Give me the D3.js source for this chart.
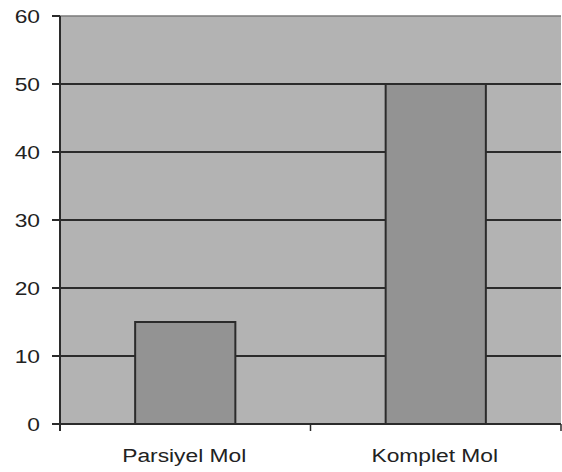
<!DOCTYPE html>
<html>
<head>
<meta charset="utf-8">
<script src="https://cdn.jsdelivr.net/npm/d3@7"></script>
<style>
  html, body { margin: 0; padding: 0; background: #fff; }
  svg { display: block; }
  text { font-family: "Liberation Sans", Arial, sans-serif; fill: #222; }
</style>
</head>
<body>
<svg id="chart" width="562" height="472"></svg>
<script>
// Chart data
const categories = ["Parsiyel Mol", "Komplet Mol"];
const values = [15, 50];
const yTicks = [0, 10, 20, 30, 40, 50, 60];

const W = 562, H = 472;
const plot = { left: 60, right: 561, top: 16, bottom: 424 };
const fontSize = 19, stretch = 1.2;

const svg = d3.select("#chart");

const x = d3.scaleBand()
  .domain(categories)
  .range([plot.left, plot.right])
  .paddingInner(0.6)
  .paddingOuter(0.3);

const y = d3.scaleLinear()
  .domain([0, 60])
  .range([plot.bottom, plot.top]);

// Plot area background
svg.append("rect")
  .attr("x", plot.left).attr("y", plot.top)
  .attr("width", plot.right - plot.left)
  .attr("height", plot.bottom - plot.top)
  .attr("fill", "#b3b3b3");

// Top border of the plot area
svg.append("line")
  .attr("x1", plot.left).attr("x2", plot.right)
  .attr("y1", y(60)).attr("y2", y(60))
  .attr("stroke", "#7a7a7a").attr("stroke-width", 1.5);

// Horizontal gridlines
svg.append("g")
  .selectAll("line")
  .data(yTicks.filter(d => d > 0 && d < 60))
  .join("line")
  .attr("x1", plot.left).attr("x2", plot.right)
  .attr("y1", d => y(d)).attr("y2", d => y(d))
  .attr("stroke", "#2b2b2b").attr("stroke-width", 2);

// Bars
svg.append("g")
  .selectAll("rect")
  .data(categories.map((c, i) => ({ c, v: values[i] })))
  .join("rect")
  .attr("x", d => x(d.c))
  .attr("y", d => y(d.v))
  .attr("width", x.bandwidth())
  .attr("height", d => y(0) - y(d.v))
  .attr("fill", "#939393")
  .attr("stroke", "#2b2b2b")
  .attr("stroke-width", 2);

// Y axis line and ticks
svg.append("line")
  .attr("x1", plot.left).attr("x2", plot.left)
  .attr("y1", plot.top).attr("y2", plot.bottom + 7)
  .attr("stroke", "#2b2b2b").attr("stroke-width", 2);

svg.append("g")
  .selectAll("line")
  .data(yTicks)
  .join("line")
  .attr("x1", plot.left - 8).attr("x2", plot.left)
  .attr("y1", d => y(d)).attr("y2", d => y(d))
  .attr("stroke", "#2b2b2b").attr("stroke-width", 2);

svg.append("g")
  .selectAll("text")
  .data(yTicks)
  .join("text")
  .attr("transform", d => `translate(${plot.left - 20},${y(d)}) scale(${stretch},1)`)
  .attr("text-anchor", "end")
  .attr("dominant-baseline", "central")
  .attr("font-size", fontSize)
  .text(d => d);

// X axis line and category separators
svg.append("line")
  .attr("x1", plot.left).attr("x2", plot.right)
  .attr("y1", plot.bottom).attr("y2", plot.bottom)
  .attr("stroke", "#2b2b2b").attr("stroke-width", 2);

const step = x.step();
const sepX = categories.map((c, i) => x(c) + x.bandwidth() / 2 + step / 2);
svg.append("g")
  .selectAll("line")
  .data(sepX)
  .join("line")
  .attr("x1", d => d).attr("x2", d => d)
  .attr("y1", plot.bottom).attr("y2", plot.bottom + 7)
  .attr("stroke", "#2b2b2b").attr("stroke-width", 1.5);

svg.append("g")
  .selectAll("text")
  .data(categories)
  .join("text")
  .attr("transform", d => `translate(${x(d) + x.bandwidth() / 2 - 1},${plot.bottom + 38}) scale(${stretch},1)`)
  .attr("text-anchor", "middle")
  .attr("font-size", fontSize)
  .text(d => d);
</script>
</body>
</html>
